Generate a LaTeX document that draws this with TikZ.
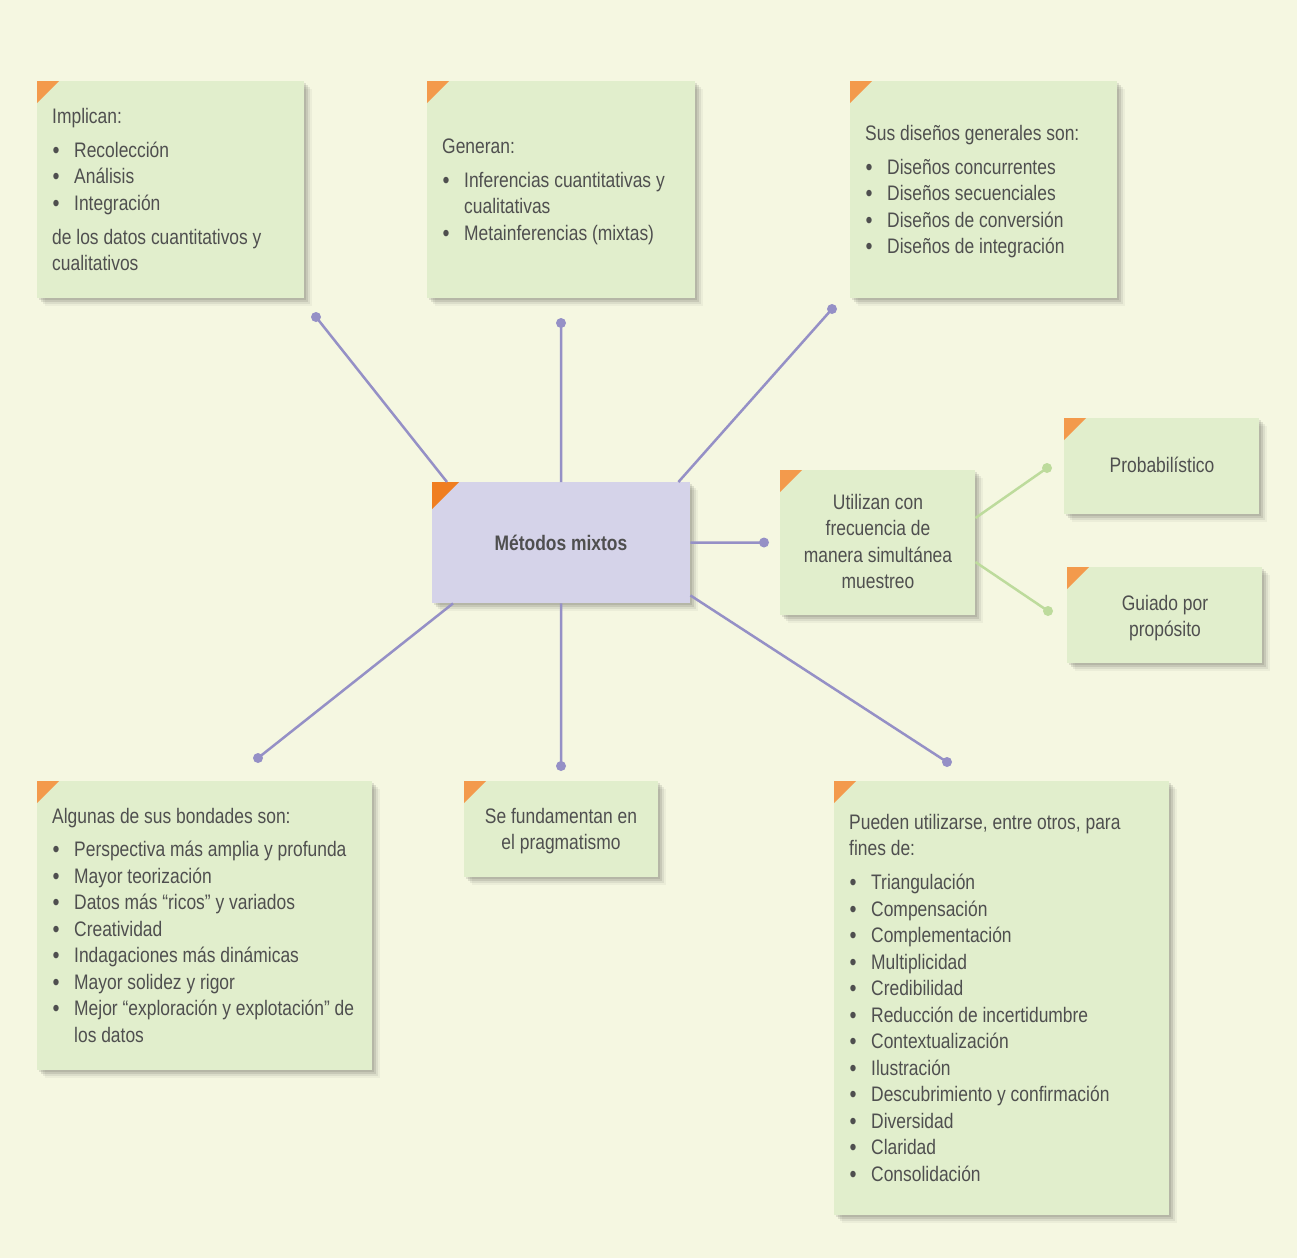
\documentclass[tikz,border=0pt]{standalone}
\usepackage{fontspec}
\setmainfont[FakeStretch=0.83]{Liberation Sans}
\usetikzlibrary{shadows,calc}
\definecolor{bg}{HTML}{F5F7E1}
\definecolor{boxg}{HTML}{E1EECC}
\definecolor{boxp}{HTML}{D5D3E9}
\definecolor{tri}{HTML}{F39A4C}
\definecolor{trid}{HTML}{F07E20}
\definecolor{lnp}{HTML}{9590C6}
\definecolor{lng}{HTML}{BDDB9C}
\definecolor{txt}{HTML}{4F4F4F}
\newcommand\fl{\rule{0pt}{15pt}}
\newcommand\bl{\makebox[22pt][l]{\hspace{0.5pt}\raisebox{-0.8pt}{\fontsize{24}{0}\selectfont\textbullet}}}
\newcommand\ind{\hspace*{22pt}}
\newcommand\corner[3]{\fill[#3] (#1.north west) -- ++(#2,0) -- ++(-#2,#2) -- cycle;}
\begin{document}
\begin{tikzpicture}[x=1pt,y=-1pt,
  boxbase/.style={inner sep=0, anchor=north west,
    drop shadow={shadow xshift=2pt,shadow yshift=-2pt,opacity=.12,fill=black!80},
    drop shadow={shadow xshift=4pt,shadow yshift=-4pt,opacity=.12,fill=black!80},
    drop shadow={shadow xshift=6pt,shadow yshift=-6pt,opacity=.08,fill=black!80},
    drop shadow={shadow xshift=7.5pt,shadow yshift=-7.5pt,opacity=.05,fill=black!80}},
  gbox/.style={boxbase, fill=boxg},
  pbox/.style={boxbase, fill=boxp},
  tx/.style={font=\fontsize{21}{26.5}\selectfont, text=txt, inner sep=0},
  lt/.style={tx, align=left, anchor=north west},
  ct/.style={tx, align=center},
  conp/.style={draw=lnp, line width=2.5pt},
  cong/.style={draw=lng, line width=2.5pt},
]
\fill[bg] (0,0) rectangle (1297,1258);
\useasboundingbox (0,0) rectangle (1297,1258);

% boxes
\node[gbox, minimum width=267, minimum height=217] (b1) at (37,81) {};
\node[gbox, minimum width=268, minimum height=217] (b2) at (427,81) {};
\node[gbox, minimum width=267, minimum height=217] (b3) at (850,81) {};
\node[pbox, minimum width=258, minimum height=121] (c) at (432,482) {};
\node[gbox, minimum width=195, minimum height=145] (u) at (780,470) {};
\node[gbox, minimum width=195, minimum height=96] (p) at (1064,418) {};
\node[gbox, minimum width=195, minimum height=96] (g) at (1067,567) {};
\node[gbox, minimum width=335, minimum height=289] (b8) at (37,781) {};
\node[gbox, minimum width=194, minimum height=96] (b9) at (464,781) {};
\node[gbox, minimum width=335, minimum height=434] (b10) at (834,781) {};

\corner{b1}{22}{tri}
\corner{b2}{22}{tri}
\corner{b3}{22}{tri}
\corner{c}{27}{trid}
\corner{u}{22}{tri}
\corner{p}{22}{tri}
\corner{g}{22}{tri}
\corner{b8}{22}{tri}
\corner{b9}{22}{tri}
\corner{b10}{22}{tri}

% dots
\coordinate (d1) at (316,317);
\coordinate (d2) at (561,323);
\coordinate (d3) at (832,309);
\coordinate (d4) at (764,542.5);
\coordinate (d5) at (258,758);
\coordinate (d6) at (561,766);
\coordinate (d7) at (947,762);
\coordinate (e1) at (1047,468);
\coordinate (e2) at (1048,611);

\draw[conp] ($(c.north west)+(15,0)$) -- (d1);
\draw[conp] (c.north) -- (d2);
\draw[conp] ($(c.north east)+(-12,0)$) -- (d3);
\draw[conp] (c.east) -- (d4);
\draw[conp] ($(c.south west)+(21,0)$) -- (d5);
\draw[conp] (c.south) -- (d6);
\draw[conp] ($(c.south east)+(0,-8)$) -- (d7);
\foreach \d in {d1,d2,d3,d4,d5,d6,d7} \fill[lnp] (\d) circle (5);
\draw[cong] ($(u.north east)+(0,48)$) -- (e1);
\draw[cong] ($(u.north east)+(0,92)$) -- (e2);
\foreach \d in {e1,e2} \fill[lng] (\d) circle (5);

% texts
\node[lt] (t1) at (52,108) {\fl Implican:\\[7.5pt]
\bl Recolección\\
\bl Análisis\\
\bl Integración\\[7.5pt]
de los datos cuantitativos y\\
cualitativos};

\node[lt] (t2) at (442,138) {\fl Generan:\\[7.5pt]
\bl Inferencias cuantitativas y\\
\ind cualitativas\\
\bl Metainferencias (mixtas)};

\node[lt] (t3) at (865,125) {\fl Sus diseños generales son:\\[7.5pt]
\bl Diseños concurrentes\\
\bl Diseños secuenciales\\
\bl Diseños de conversión\\
\bl Diseños de integración};

\node[ct, anchor=base, font=\fontsize{21}{26.5}\selectfont\bfseries] (tc) at (561,550) {Métodos mixtos};

\node[ct, anchor=north] (tu) at (878,494) {\fl Utilizan con\\
frecuencia de\\
manera simultánea\\
muestreo};

\node[ct, anchor=base] (tp) at (1162,472) {Probabilístico};
\node[ct, anchor=north] (tg) at (1165,595) {\fl Guiado por\\ propósito};

\node[lt] (t8) at (52,808) {\fl Algunas de sus bondades son:\\[7pt]
\bl Perspectiva más amplia y profunda\\
\bl Mayor teorización\\
\bl Datos más “ricos” y variados\\
\bl Creatividad\\
\bl Indagaciones más dinámicas\\
\bl Mayor solidez y rigor\\
\bl Mejor “exploración y explotación” de\\
\ind los datos};

\node[ct, anchor=north] (t9) at (561,808) {\fl Se fundamentan en\\ el pragmatismo};

\node[lt] (t10) at (849,814) {\fl Pueden utilizarse, entre otros, para\\
fines de:\\[7.5pt]
\bl Triangulación\\
\bl Compensación\\
\bl Complementación\\
\bl Multiplicidad\\
\bl Credibilidad\\
\bl Reducción de incertidumbre\\
\bl Contextualización\\
\bl Ilustración\\
\bl Descubrimiento y confirmación\\
\bl Diversidad\\
\bl Claridad\\
\bl Consolidación};
\end{tikzpicture}
\end{document}
